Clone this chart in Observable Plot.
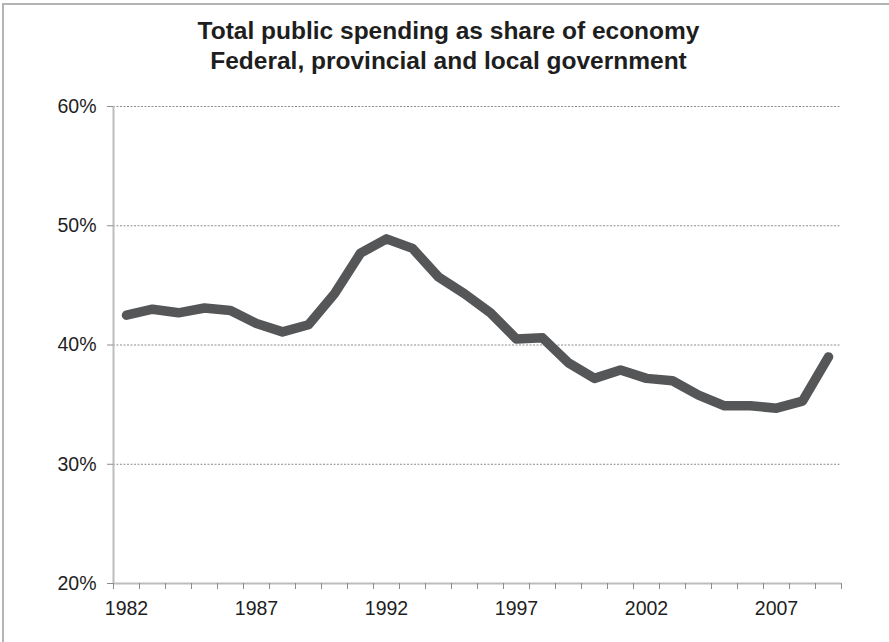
<!DOCTYPE html>
<html>
<head>
<meta charset="utf-8">
<script src="https://cdn.jsdelivr.net/npm/d3@7"></script>
<script src="https://cdn.jsdelivr.net/npm/@observablehq/plot@0.6"></script>
<style>
  html, body { margin: 0; padding: 0; background: #fff; }
  #wrap { position: relative; width: 889px; height: 642px; overflow: hidden; }
  #border { position: absolute; left: 2px; top: 3px; right: -10px; bottom: -10px; border-left: 2px solid #b4b4b4; border-top: 2px solid #b4b4b4; pointer-events: none; }
  svg { display: block; }
</style>
</head>
<body>
<div id="wrap"><div id="border"></div></div>
<script>
const years = [1982,1983,1984,1985,1986,1987,1988,1989,1990,1991,1992,1993,1994,1995,1996,1997,1998,1999,2000,2001,2002,2003,2004,2005,2006,2007,2008,2009];
const spending = [42.5,43.0,42.7,43.1,42.9,41.8,41.1,41.7,44.3,47.7,48.9,48.1,45.7,44.3,42.7,40.5,40.6,38.5,37.2,37.9,37.2,37.0,35.8,34.9,34.9,34.7,35.3,39.0];
const labelYears = [1982,1987,1992,1997,2002,2007];
const yTicks = [20,30,40,50,60];
const gridTicks = [30,40,50,60];
const titleLines = ["Total public spending as share of economy", "Federal, provincial and local government"];

const data = years.map((y, i) => ({year: y, value: spending[i]}));
const x0 = years[0] - 0.5;
const x1 = years[years.length - 1] + 0.5;
const boundaries = d3.range(years.length + 1).map(i => x0 + i);

const font = "'Liberation Sans', Arial, sans-serif";

const chart = Plot.plot({
  width: 889,
  height: 642,
  marginLeft: 113,
  marginRight: 48,
  marginTop: 106,
  marginBottom: 59,
  style: {fontFamily: font, background: "transparent", overflow: "visible"},
  x: {type: "linear", domain: [x0, x1], axis: null},
  y: {type: "linear", domain: [20, 60], axis: null},
  marks: [
    // dotted gridlines
    Plot.ruleY(gridTicks, {y: d => d, stroke: "#8c8c8c", strokeWidth: 1, strokeDasharray: "2,1.5"}),
    // y axis line
    Plot.ruleX([x0], {x: d => d, stroke: "#bdbdbd", strokeWidth: 2}),
    // y tick marks
    Plot.ruleY(yTicks, {y: d => d, x1: () => x0, x2: () => x0, insetLeft: -6, stroke: "#8c8c8c", strokeWidth: 1}),
    // x axis line
    Plot.ruleY([20], {y: d => d, stroke: "#bdbdbd", strokeWidth: 2}),
    // x tick marks at category boundaries
    Plot.ruleX(boundaries, {x: d => d, y1: () => 20, y2: () => 20, insetBottom: -6, stroke: "#8c8c8c", strokeWidth: 1}),
    // y tick labels
    Plot.text(yTicks, {x: () => x0, y: d => d, text: d => d + "%", textAnchor: "end", dx: -17, fontSize: 19.5, fill: "#1e1e1e"}),
    // x tick labels
    Plot.text(labelYears, {x: d => d, y: () => 20, text: d => String(d), dy: 25, fontSize: 19.5, fill: "#1e1e1e"}),
    // the series line
    Plot.line(data, {x: "year", y: "value", stroke: "#555658", strokeWidth: 9.5, strokeLinejoin: "round", strokeLinecap: "round"}),
    // title
    Plot.text([titleLines.join("\n")], {frameAnchor: "top", text: d => d, dx: -29, dy: -88, lineHeight: 1.2, fontSize: 24.5, fontWeight: "bold", fill: "#1e1e1e"})
  ]
});

document.getElementById("wrap").appendChild(chart);
</script>
</body>
</html>
